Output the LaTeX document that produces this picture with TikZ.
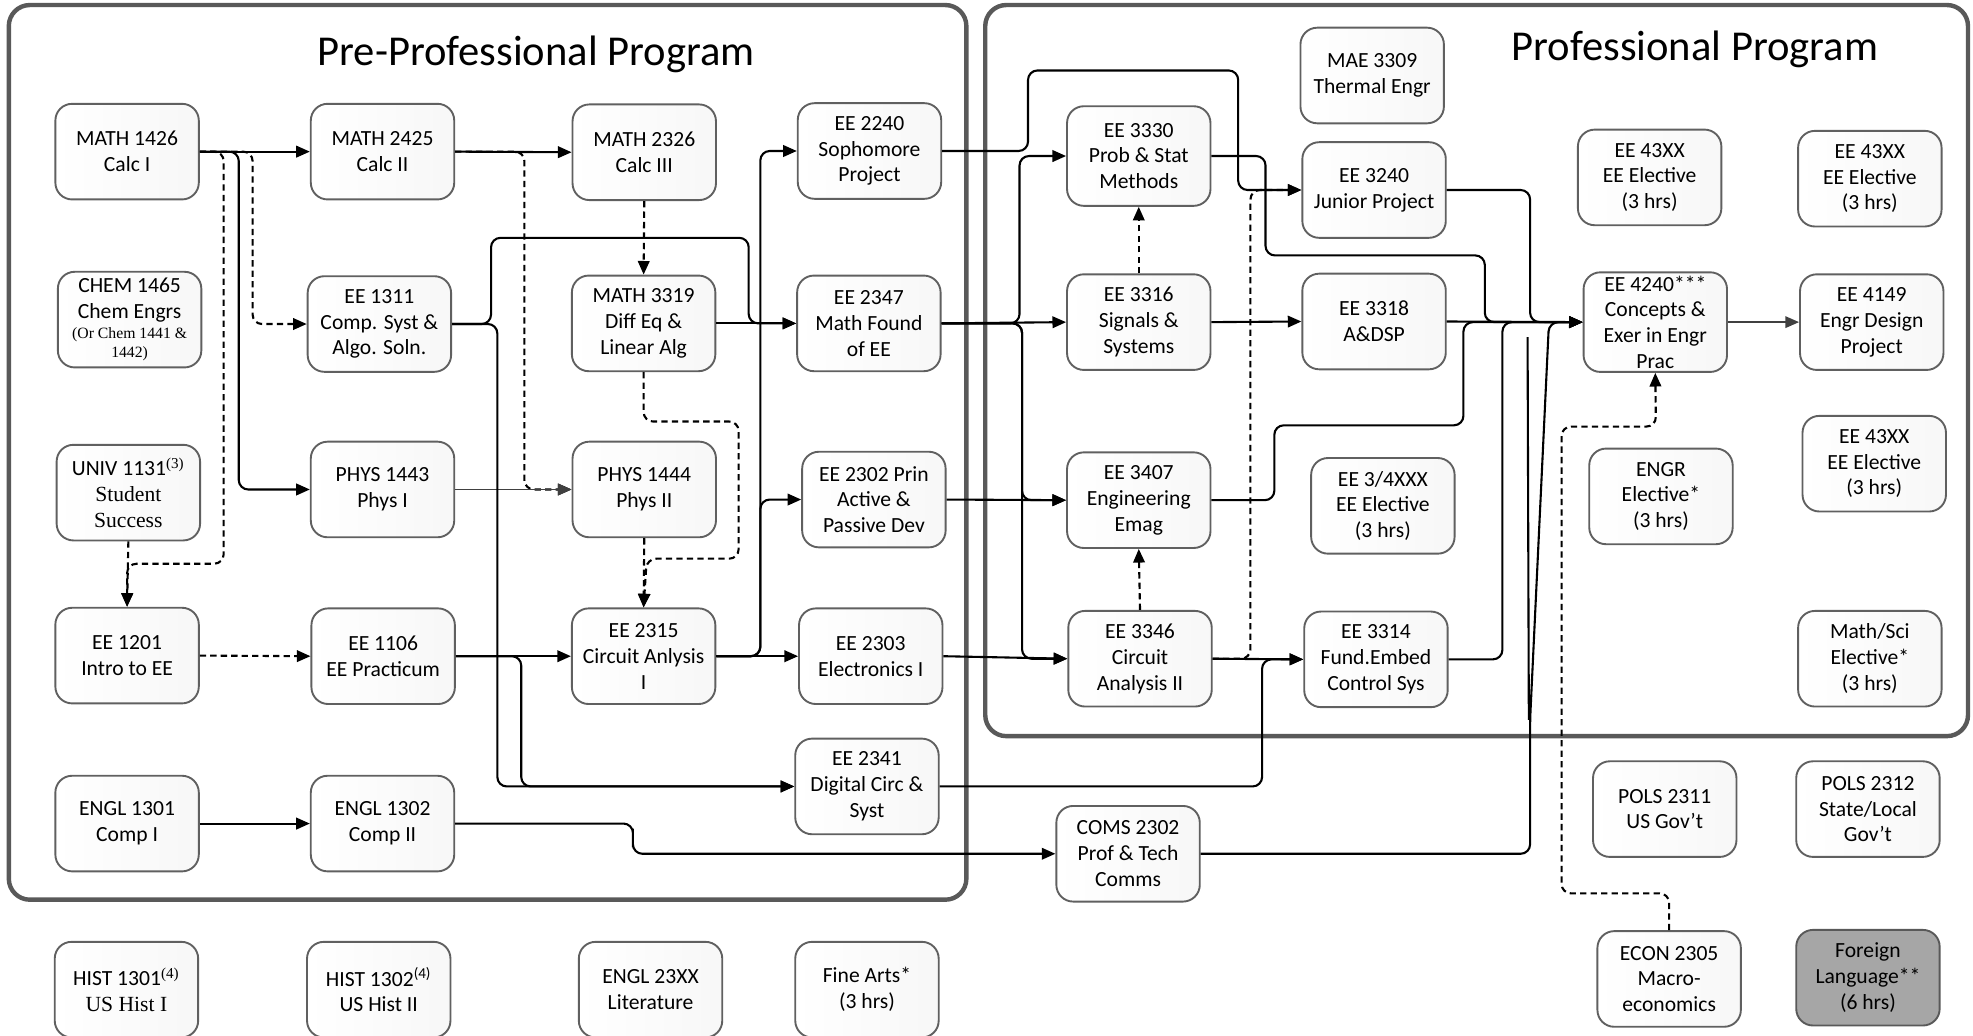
\documentclass[tikz,border=0pt]{standalone}
\usepackage{fontspec}
\setmainfont{Carlito}
\newfontfamily\tms{Liberation Serif}
\usetikzlibrary{arrows.meta}
\definecolor{frm}{HTML}{595959}
\definecolor{bdr}{HTML}{606060}
\definecolor{flg}{HTML}{A6A6A6}
\tikzset{
  box/.style={draw=bdr, line width=0.9pt, rounded corners=8pt, minimum width=68.4pt,
    minimum height=45.6pt, inner sep=1pt, align=center,
    font=\fontsize{10.3}{12.3}\selectfont, left color=white, right color=black!3},
  tallbox/.style={box, minimum height=47.5pt},
  greybox/.style={box, left color=flg, right color=flg, draw=frm},
  frame/.style={draw=frm, line width=2.1pt, rounded corners=10pt},
  conn/.style={draw=black, line width=1pt, rounded corners=4.5pt},
  arr/.style={conn, -{Triangle[length=6.5pt,width=5.5pt]}},
  darr/.style={arr, dash pattern=on 3pt off 2pt},
  thinarr/.style={arr, line width=0.7pt, draw=black!75},
  title/.style={font=\fontsize{20.3}{24}\selectfont, inner sep=0pt}
}
\begin{document}
\begin{tikzpicture}[x=0.6pt, y=-0.6pt]
\useasboundingbox (0,0) rectangle (1568,823);
% frames
\draw[frame] (7,4) rectangle (768,715);
\draw[frame] (783,4) rectangle (1564,585);
\node[title] (tpre) at (426,43) {Pre-Professional Program};
\node[title] (tpro) at (1347,39) {Professional Program};

% column 1
\node[box] (m1426) at (101,120.5) {MATH 1426\\Calc I};
\node[box] (chem) at (103,254) {CHEM 1465\\Chem Engrs\\[-3pt]{\tms\fontsize{7.5}{9}\selectfont (Or Chem 1441 \&}\\[-3pt]{\tms\fontsize{7.5}{9}\selectfont 1442)}};
\node[box] (univ) at (102,391.5) {UNIV 1131\textsuperscript{\tms(3)}\\{\tms Student}\\{\tms Success}};
\node[box] (e1201) at (101,521) {EE 1201\\Intro to EE};
\node[box] (en1301) at (101,654.5) {ENGL 1301\\Comp I};
\node[box] (h1301) at (100.5,786.5) {HIST 1301\textsuperscript{\tms(4)}\\{\tms US Hist I}};
% column 2
\node[box] (m2425) at (304,120.5) {MATH 2425\\Calc II};
\node[box] (e1311) at (301.5,257.5) {EE 1311\\Comp. Syst \&\\Algo. Soln.};
\node[box] (p1443) at (304,389) {PHYS 1443\\Phys I};
\node[box] (e1106) at (304.5,521.5) {EE 1106\\EE Practicum};
\node[box] (en1302) at (304,654.5) {ENGL 1302\\Comp II};
\node[box] (h1302) at (301,786.5) {HIST 1302\textsuperscript{(4)}\\US Hist II};
% column 3
\node[box] (m2326) at (512,121) {MATH 2326\\Calc III};
\node[box] (m3319) at (511.5,257) {MATH 3319\\Diff Eq \&\\Linear Alg};
\node[box] (p1444) at (512,389) {PHYS 1444\\Phys II};
\node[box] (e2315) at (511.5,521.5) {EE 2315\\Circuit Anlysis\\I};
\node[box] (en23) at (517,786.5) {ENGL 23XX\\Literature};
% column 4
\node[box] (e2240) at (691,120) {EE 2240\\Sophomore\\Project};
\node[box] (e2347) at (690.5,257) {EE 2347\\Math Found\\of EE};
\node[box] (e2302) at (694.5,397) {EE 2302 Prin\\Active \&\\Passive Dev};
\node[box] (e2303) at (692,521.5) {EE 2303\\Electronics I};
\node[box] (e2341) at (689,625) {EE 2341\\Digital Circ \&\\Syst};
\node[box] (fine) at (689,786.5) {Fine Arts*\\(3 hrs)};
% column 5
\node[tallbox] (e3330) at (905,124) {EE 3330\\Prob \& Stat\\Methods};
\node[box] (e3316) at (905,256) {EE 3316\\Signals \&\\Systems};
\node[box] (e3407) at (905,397.5) {EE 3407\\Engineering\\Emag};
\node[box] (e3346) at (906,523.5) {EE 3346\\Circuit\\Analysis II};
\node[box] (coms) at (896.5,678.5) {COMS 2302\\Prof \& Tech\\Comms};
% column 6
\node[box] (mae) at (1090.5,60) {MAE 3309\\Thermal Engr};
\node[box] (e3240) at (1092,151) {EE 3240\\Junior Project};
\node[box] (e3318) at (1092,255.5) {EE 3318\\A\&DSP};
\node[box] (e34) at (1099,402) {EE 3/4XXX\\EE Elective\\(3 hrs)};
\node[box] (e3314) at (1093.5,524) {EE 3314\\Fund.Embed\\Control Sys};
% column 7
\node[box] (e43a) at (1311,141) {EE 43XX\\EE Elective\\(3 hrs)};
\node[tallbox] (e4240) at (1315.5,256) {EE 4240***\\Concepts \&\\Exer in Engr\\Prac};
\node[box] (engr) at (1320,394.5) {ENGR\\Elective*\\(3 hrs)};
\node[box] (pols1) at (1323,643) {POLS 2311\\US Gov’t};
\node[box] (econ) at (1326.5,778) {ECON 2305\\Macro-\\economics};
% column 8
\node[box] (e43b) at (1486,142) {EE 43XX\\EE Elective\\(3 hrs)};
\node[box] (e4149) at (1487.5,256) {EE 4149\\Engr Design\\Project};
\node[box] (e43c) at (1489.5,368.5) {EE 43XX\\EE Elective\\(3 hrs)};
\node[box] (msci) at (1486,523.5) {Math/Sci\\Elective*\\(3 hrs)};
\node[box] (pols2) at (1484.5,643) {POLS 2312\\State/Local\\Gov’t};
\node[greybox] (flang) at (1484.5,777) {Foreign\\Language**\\(6 hrs)};

% connectors: first year
\draw[arr] (m1426.east) -- (m2425.west);
\draw[arr] (m1426.east) -- ++(31,0) |- (p1443.west);
\draw[darr] (m1426.east) -- ++(42,0) |- (e1311.west);
\draw[darr] (m1426.east) -- ++(19,0) |- (101,448) -- (e1201.north);
\draw[darr] (univ.south) -- (e1201.north);
\draw[darr] (e1201.east) -- (e1106.west);
\draw[arr] (en1301.east) -- (en1302.west);
\draw[arr] (en1302.east) -| (503,666) |- (coms.west);
% second column
\draw[arr] (m2425.east) -- (m2326.west);
\draw[darr] (m2425.east) -- ++(55,0) |- (p1444.west);
\draw[thinarr] (p1443.east) -- (p1444.west);
\draw[arr] (e1311.east) -- ++(31,0) |- (595,189) |- (e2347.west);
\draw[arr] (e1311.east) -- ++(36,0) |- (e2341.west);
\draw[arr] (e1106.east) -- ++(52,0) |- (e2341.west);
\draw[arr] (e1106.east) -- (e2315.west);
% third column
\draw[darr] (m2326.south) -- (m3319.north);
\draw[arr] (m3319.east) -- (e2347.west);
\draw[darr] (m3319.south) |- (587,335) |- (514,444) -- (e2315.north);
\draw[darr] (p1444.south) -- (e2315.north);
\draw[arr] (e2315.east) -- ++(35,0) |- (e2240.west);
\draw[arr] (e2315.east) -- ++(35,0) |- (e2302.west);
\draw[arr] (e2315.east) -- (e2303.west);
% fourth column
\draw[arr] (e2240.east) -| (817,56) -| (984,100) |- (e3240.west);
\draw[arr] (e2347.east) -- (e3316.west);
\draw[arr] (e2347.east) -- ++(62,0) |- (e3330.west);
\draw[arr] (e2347.east) -- ++(64,0) |- (e3407.west);
\draw[arr] (e2347.east) -- ++(64,0) |- (e3346.west);
\draw[arr] (e2302.east) -- (e3407.west);
\draw[arr] (e2303.east) -- (e3346.west);
\draw[arr] (e2341.east) -| (1003,560) |- (e3314.west);
% fifth column
\draw[darr] (e3316.north) -- (e3330.south);
\draw[arr] (e3316.east) -- (e3318.west);
\draw[darr] (e3346.north) -- (e3407.south);
\draw[arr] (e3346.east) -- (e3314.west);
\draw[darr] (e3346.east) -- ++(30,0) |- (e3240.west);
\draw[arr] (coms.east) -- (1216,678.5) -- (1216,572) -- (1231,256) -- (e4240.west);
\draw[conn] (1214,268) -- (1215,572);
% sixth column into EE 4240
\draw[arr] (e3330.east) -- ++(43,0) |- (1180,203) |- (e4240.west);
\draw[arr] (e3240.east) -| (1216,200) |- (e4240.west);
\draw[arr] (e3318.east) -- (e4240.west);
\draw[arr] (e3407.east) -- ++(50,0) |- (1163,338) |- (e4240.west);
\draw[arr] (e3314.east) -| (1194,400) |- (e4240.west);
\draw[darr] (econ.north) |- (1241,710) |- (1316,339) -- (e4240.south);
\draw[thinarr] (e4240.east) -- (e4149.west);
\end{tikzpicture}
\end{document}
